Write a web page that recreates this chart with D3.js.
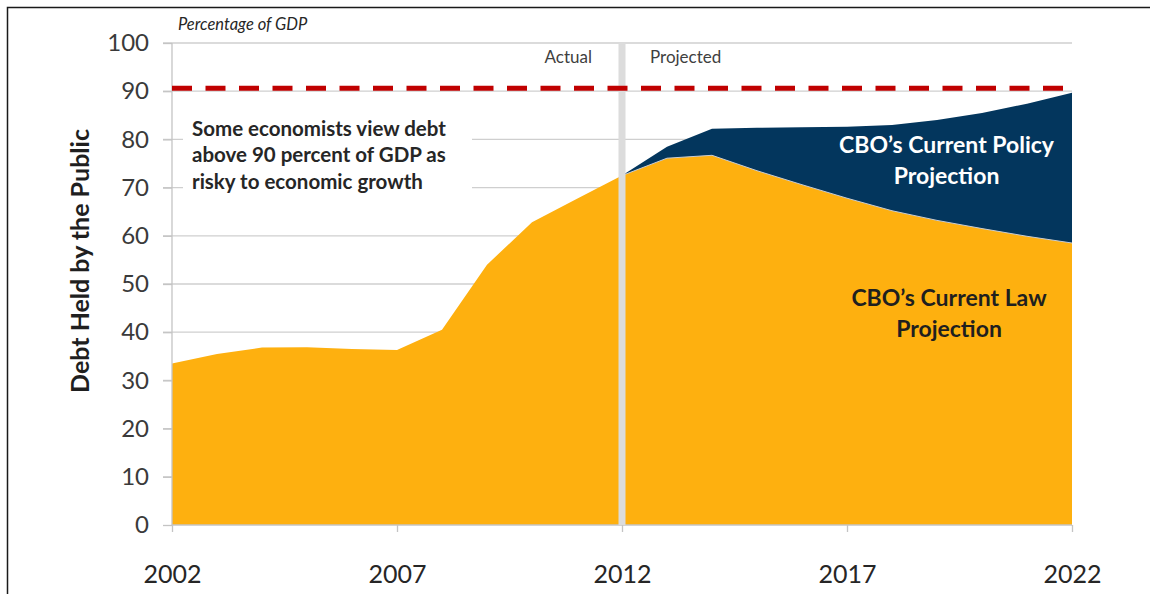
<!DOCTYPE html>
<html>
<head>
<meta charset="utf-8">
<script src="https://cdn.jsdelivr.net/npm/d3@7/dist/d3.min.js"></script>
<style>
    body { margin: 0; background: #fff; }
    svg { display: block; font-family: Lato, "Open Sans", sans-serif; }
</style>
</head>
<body>
<svg id="chart" width="1150" height="594"></svg>
<script>
// debt held by the public, percent of GDP
const years = [2002, 2003, 2004, 2005, 2006, 2007, 2008, 2009, 2010, 2011, 2012,
    2013, 2014, 2015, 2016, 2017, 2018, 2019, 2020, 2021, 2022];
const currentLaw = [33.5, 35.5, 36.8, 36.9, 36.5, 36.3, 40.5, 54.0, 62.8, 67.7, 72.5,
    76.1, 76.7, 73.5, 70.6, 67.8, 65.2, 63.2, 61.5, 59.9, 58.5];

const projectionYears = [2012, 2013, 2014, 2015, 2016, 2017, 2018, 2019, 2020, 2021, 2022];
const currentPolicy = [72.5, 78.5, 82.2, 82.4, 82.5, 82.6, 83.0, 84.0, 85.5, 87.4, 89.7];

const riskLevel = 90.6;
const splitYear = 2012;

const yTicks = [0, 10, 20, 30, 40, 50, 60, 70, 80, 90, 100];
const xTicks = [2002, 2007, 2012, 2017, 2022];

const noteLines = ['Some economists view debt', 'above 90 percent of GDP as', 'risky to economic growth'];
const policyLabel = ['CBO\u2019s Current Policy', 'Projection'];
const lawLabel = ['CBO\u2019s Current Law', 'Projection'];

const margin = { top: 43, left: 172, bottom: 69, right: 78 };
const width = 1150;
const height = 594;
const chartWidth = width - margin.left - margin.right;
const chartHeight = height - margin.top - margin.bottom;

const svg = d3.select('#chart');

// frame
svg.append('path')
    .attr('d', `M7.5,${height} V7.5 H${width}`)
    .attr('fill', 'none')
    .attr('stroke', '#1a1a1a')
    .attr('stroke-width', 1.5);

const g = svg.append('g')
    .attr('transform', `translate(${margin.left},${margin.top})`);

const x = d3.scaleLinear().domain([2002, 2022]).range([0, chartWidth]);
const y = d3.scaleLinear().domain([0, 100]).range([chartHeight, 0]);

// gridlines
g.append('g')
    .selectAll('line')
    .data(yTicks.filter(t => t > 0))
    .join('line')
    .attr('x1', -9)
    .attr('x2', chartWidth)
    .attr('y1', d => y(d))
    .attr('y2', d => y(d))
    .attr('stroke', '#cfcfcf')
    .attr('stroke-width', 1.3);

const policyArea = d3.area()
    .x((d, i) => x(projectionYears[i]))
    .y0(y(0))
    .y1(d => y(d));

const lawArea = d3.area()
    .x((d, i) => x(years[i]))
    .y0(y(0))
    .y1(d => y(d));

g.append('path')
    .datum(currentPolicy)
    .attr('d', policyArea)
    .attr('fill', '#03365d');

g.append('path')
    .datum(currentLaw)
    .attr('d', lawArea)
    .attr('fill', '#feb00f');

// faint edge between the two projections
const lawLine = d3.line()
    .x(d => x(d[0]))
    .y(d => y(d[1]));
g.append('path')
    .datum(years.map((yr, i) => [yr, currentLaw[i]]).filter(d => d[0] >= splitYear))
    .attr('d', lawLine)
    .attr('fill', 'none')
    .attr('stroke', '#c9ccd2')
    .attr('stroke-width', 1);

// axes
const yAxe = d3.axisLeft(y).tickValues(yTicks).tickSize(9).tickPadding(14);
const xAxe = d3.axisBottom(x).tickValues(xTicks).tickFormat(d3.format('d')).tickSize(7).tickPadding(33);

const yAxisG = g.append('g').call(yAxe);
yAxisG.select('.domain').attr('stroke', '#c4c4c4').attr('stroke-width', 1.3).attr('d', `M0,${chartHeight}V0`);
yAxisG.selectAll('.tick line').attr('stroke', '#c4c4c4').attr('stroke-width', 1.3);
yAxisG.selectAll('.tick text')
    .attr('fill', '#3a3a3a')
    .style('font-size', '24px')
    .style('font-family', 'Lato, sans-serif');

const xAxisG = g.append('g')
    .attr('transform', `translate(0,${chartHeight})`)
    .call(xAxe);
xAxisG.select('.domain').attr('stroke', '#c4c4c4').attr('stroke-width', 1.3).attr('d', `M0,0H${chartWidth}`);
xAxisG.selectAll('.tick line').attr('stroke', '#c4c4c4').attr('stroke-width', 1.3);
xAxisG.selectAll('.tick text')
    .attr('fill', '#262626')
    .style('font-size', '25px')
    .style('font-family', 'Lato, sans-serif');

// actual / projected divider
g.append('rect')
    .attr('x', x(splitYear) - 3.5)
    .attr('y', y(100))
    .attr('width', 7)
    .attr('height', chartHeight - y(100))
    .attr('fill', '#dcdcdc');

// 90 percent threshold
g.append('line')
    .attr('x1', x(2002))
    .attr('x2', x(2022))
    .attr('y1', y(riskLevel))
    .attr('y2', y(riskLevel))
    .attr('stroke', '#c00000')
    .attr('stroke-width', 5)
    .attr('stroke-dasharray', '20,13.5');

g.append('text')
    .attr('x', x(splitYear) - 30)
    .attr('y', 20)
    .attr('text-anchor', 'end')
    .attr('fill', '#404040')
    .style('font-size', '17px')
    .text('Actual');

g.append('text')
    .attr('x', x(splitYear) + 28)
    .attr('y', 20)
    .attr('fill', '#404040')
    .style('font-size', '17px')
    .text('Projected');

// note box
g.append('rect')
    .attr('x', 11)
    .attr('y', 68)
    .attr('width', 289)
    .attr('height', 86)
    .attr('fill', '#fff');

g.append('text')
    .attr('x', 20)
    .attr('y', 92.5)
    .attr('fill', '#262626')
    .style('font-size', '20.5px')
    .style('font-weight', 'bold')
    .selectAll('tspan')
    .data(noteLines)
    .join('tspan')
    .attr('x', 20)
    .attr('dy', (d, i) => i === 0 ? 0 : 26.5)
    .text(d => d);

function centeredLabel(lines, cx, top, color) {
    g.append('text')
        .attr('y', top)
        .attr('text-anchor', 'middle')
        .attr('fill', color)
        .style('font-size', '23px')
        .style('font-weight', 'bold')
        .selectAll('tspan')
        .data(lines)
        .join('tspan')
        .attr('x', cx)
        .attr('dy', (d, i) => i === 0 ? 0 : 31)
        .text(d => d);
}

centeredLabel(policyLabel, 774.5, 110, '#ffffff');
centeredLabel(lawLabel, 777, 263, '#1f1f1f');

// titles
svg.append('text')
    .attr('x', 178)
    .attr('y', 30)
    .attr('fill', '#262626')
    .style('font-size', '16.5px')
    .style('font-style', 'italic')
    .text('Percentage of GDP');

svg.append('text')
    .attr('transform', 'translate(89,261) rotate(-90)')
    .attr('text-anchor', 'middle')
    .attr('fill', '#1f1f1f')
    .style('font-size', '25px')
    .style('font-weight', 'bold')
    .text('Debt Held by the Public');
</script>
</body>
</html>
